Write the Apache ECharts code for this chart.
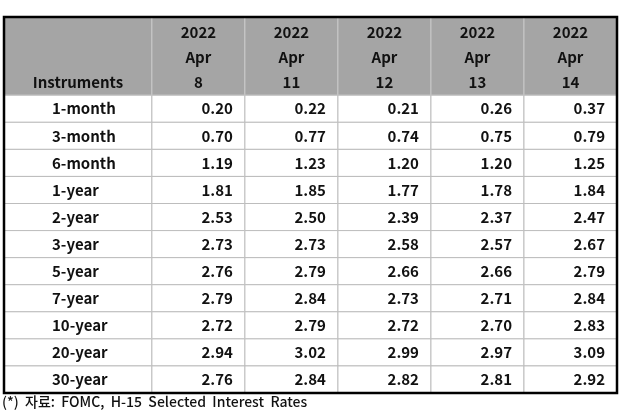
<!DOCTYPE html>
<html>
<head>
<meta charset="utf-8">
<script src="https://cdn.jsdelivr.net/npm/echarts@6/dist/echarts.min.js"></script>
<style>
  html, body { margin: 0; padding: 0; background: #fff; }
  #main { width: 624px; height: 417px; }
</style>
</head>
<body>
<div id="main"></div>
<script>
// table content
const instruments = ['1-month', '3-month', '6-month', '1-year', '2-year', '3-year', '5-year', '7-year', '10-year', '20-year', '30-year']
const dateLabels = ['2022\nApr\n8', '2022\nApr\n11', '2022\nApr\n12', '2022\nApr\n13', '2022\nApr\n14']
const apr8 = [0.20, 0.70, 1.19, 1.81, 2.53, 2.73, 2.76, 2.79, 2.72, 2.94, 2.76]
const apr11 = [0.22, 0.77, 1.23, 1.85, 2.50, 2.73, 2.79, 2.84, 2.79, 3.02, 2.84]
const apr12 = [0.21, 0.74, 1.20, 1.77, 2.39, 2.58, 2.66, 2.73, 2.72, 2.99, 2.82]
const apr13 = [0.26, 0.75, 1.20, 1.78, 2.37, 2.57, 2.66, 2.71, 2.70, 2.97, 2.81]
const apr14 = [0.37, 0.79, 1.25, 1.84, 2.47, 2.67, 2.79, 2.84, 2.83, 3.09, 2.92]
const columns = [apr8, apr11, apr12, apr13, apr14]

const FIRST_COL = 1.59   // width of first column in column units
const HEAD_ROWS = 2.89   // header height in row units
const FONT = '"Noto Sans CJK KR", "Malgun Gothic", sans-serif'

function colSpan(c) {
  return c === 0 ? [0, FIRST_COL] : [FIRST_COL + c - 1, FIRST_COL + c]
}
function rowSpan(r) {
  return r < 0 ? [0, HEAD_ROWS] : [HEAD_ROWS + r, HEAD_ROWS + r + 1]
}

// cells: [x0, x1, y0, y1, text, kind]
const cells = []
cells.push([...colSpan(0), ...rowSpan(-1), 'Instruments', 'headLeft'])
dateLabels.forEach((d, i) => cells.push([...colSpan(i + 1), ...rowSpan(-1), d, 'head']))
instruments.forEach((name, r) => {
  cells.push([...colSpan(0), ...rowSpan(r), name, 'name'])
  columns.forEach((col, i) => {
    cells.push([...colSpan(i + 1), ...rowSpan(r), col[r].toFixed(2), 'num'])
  })
})
cells.push([0, FIRST_COL + columns.length, 0, HEAD_ROWS + instruments.length, '', 'frame'])

function renderCell(params, api) {
  const kind = cells[params.dataIndex][5]
  const p0 = api.coord([api.value(0), api.value(2)])
  const p1 = api.coord([api.value(1), api.value(3)])
  const x = p0[0], y = p0[1], w = p1[0] - p0[0], h = p1[1] - p0[1]
  const text = api.value(4)
  if (kind === 'frame') {
    return {
      type: 'rect',
      shape: { x: x, y: y, width: w, height: h },
      style: { fill: null, stroke: '#000', lineWidth: 2.5 }
    }
  }
  const isHead = kind === 'head' || kind === 'headLeft'
  const children = [{
    type: 'rect',
    shape: { x: x, y: y, width: w, height: h },
    style: { fill: isHead ? '#a5a5a5' : '#fff', stroke: isHead ? '#c9c9c9' : '#bdbdbd', lineWidth: 1 }
  }]
  let tx, ty, align = 'center'
  if (kind === 'head') {
    tx = x + w / 2; ty = y + h / 2 + 1
  } else if (kind === 'headLeft') {
    tx = x + w / 2; ty = y + h - 13
  } else if (kind === 'name') {
    tx = x + 48; ty = y + h / 2; align = 'left'
  } else {
    tx = x + w - 12; ty = y + h / 2; align = 'right'
  }
  children.push({
    type: 'text',
    style: {
      x: tx, y: ty, text: text,
      align: align, verticalAlign: 'middle',
      font: 'bold 15px ' + FONT,
      lineHeight: 25,
      fill: '#111'
    }
  })
  return { type: 'group', children: children }
}

const chart = echarts.init(document.getElementById('main'))
chart.setOption({
  animation: false,
  grid: { left: 4, top: 17, width: 613, height: 376 },
  xAxis: { type: 'value', min: 0, max: FIRST_COL + columns.length, show: false },
  yAxis: { type: 'value', min: 0, max: HEAD_ROWS + instruments.length, inverse: true, show: false },
  graphic: [{
    type: 'text',
    left: 2,
    top: 395,
    style: {
      text: '(*)  자료:  FOMC,  H-15  Selected  Interest  Rates',
      font: '500 14px ' + FONT,
      fill: '#111'
    }
  }],
  series: [{
    type: 'custom',
    renderItem: renderCell,
    encode: { x: [0, 1], y: [2, 3] },
    data: cells
  }]
})
</script>
</body>
</html>
